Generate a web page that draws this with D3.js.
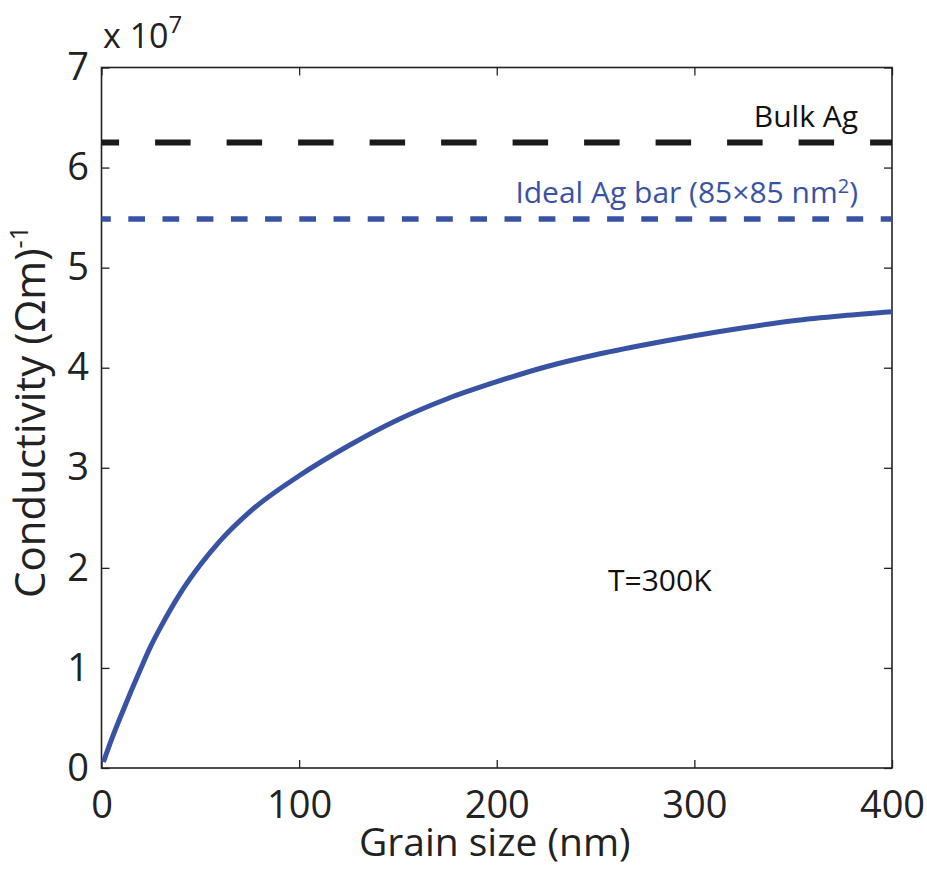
<!DOCTYPE html>
<html>
<head>
<meta charset="utf-8">
<script src="https://cdn.jsdelivr.net/npm/d3@7"></script>
<style>
  body { margin: 0; background: #fff; }
  text { font-family: "Open Sans", "Noto Sans", sans-serif; }
</style>
</head>
<body>
<div id="plothere"></div>
<script>
// conductivity in units of 1e7 (Ohm m)^-1
var grainSize = [1, 5, 10, 15, 20, 25, 30, 40, 50, 60, 75, 100, 125, 150, 175, 200, 225, 250, 275, 300, 325, 350, 375, 400];
var conductivity = [0.06, 0.28, 0.53, 0.77, 1.00, 1.22, 1.41, 1.75, 2.03, 2.27, 2.56, 2.92, 3.22, 3.48, 3.69, 3.86, 4.01, 4.13, 4.23, 4.32, 4.40, 4.47, 4.52, 4.56];
var bulkAg = 6.25;
var idealBar = 5.485;
var xTicks = [0, 100, 200, 300, 400];
var yTicks = [0, 1, 2, 3, 4, 5, 6, 7];

var blue = "#3953a4";
var margin = {top: 67.5, right: 35, bottom: 102, left: 101.5},
    width = 927 - margin.left - margin.right,
    height = 870 - margin.top - margin.bottom;

var svg = d3.select("#plothere")
  .append("svg")
    .attr("width", 927)
    .attr("height", 870)
  .append("g")
    .attr("transform", "translate(" + margin.left + "," + margin.top + ")");

var x = d3.scaleLinear().domain([0, 400]).range([0, width]);
var y = d3.scaleLinear().domain([0, 7]).range([height, 0]);

// axes, ticks pointing inward
svg.append("g")
  .attr("transform", "translate(0," + height + ")")
  .call(d3.axisBottom(x).tickValues(xTicks).tickFormat(d3.format("d"))
    .tickSizeInner(-8).tickSizeOuter(0).tickPadding(23));
svg.append("g")
  .call(d3.axisLeft(y).tickValues(yTicks).tickFormat(d3.format("d"))
    .tickSizeInner(-8).tickSizeOuter(0).tickPadding(12.5));
svg.append("g")
  .call(d3.axisTop(x).tickValues(xTicks).tickSizeInner(-8).tickSizeOuter(0).tickFormat(""));
svg.append("g")
  .attr("transform", "translate(" + width + ",0)")
  .call(d3.axisRight(y).tickValues(yTicks).tickSizeInner(-8).tickSizeOuter(0).tickFormat(""));

svg.selectAll(".domain").remove();
svg.selectAll(".tick line").attr("stroke", "#222").attr("stroke-width", 1.3);
svg.selectAll(".tick text")
  .attr("fill", "#222")
  .style("font-size", "38px")
  .style("font-family", "'Open Sans', sans-serif");

svg.append("rect")
  .attr("width", width)
  .attr("height", height)
  .attr("fill", "none")
  .attr("stroke", "#222")
  .attr("stroke-width", 1.6);

// reference lines
svg.append("line")
  .attr("x1", x(0)).attr("x2", x(400))
  .attr("y1", y(bulkAg)).attr("y2", y(bulkAg))
  .attr("stroke", "#1a1a1a")
  .attr("stroke-width", 6)
  .attr("stroke-dasharray", "35.5,36")
  .attr("stroke-dashoffset", 17.9);

svg.append("line")
  .attr("x1", x(0)).attr("x2", x(400))
  .attr("y1", y(idealBar)).attr("y2", y(idealBar))
  .attr("stroke", blue)
  .attr("stroke-width", 5.5)
  .attr("stroke-dasharray", "16.7,17.5")
  .attr("stroke-dashoffset", 7.4);

// curve
var pts = grainSize.map(function(d, i) { return {x: d, y: conductivity[i]}; });
svg.append("path")
  .datum(pts)
  .attr("fill", "none")
  .attr("stroke", blue)
  .attr("stroke-width", 5)
  .attr("d", d3.line()
    .x(function(d) { return x(d.x); })
    .y(function(d) { return y(d.y); })
    .curve(d3.curveMonotoneX));

// annotations
svg.append("text")
  .attr("x", 858 - margin.left).attr("y", 127 - margin.top)
  .attr("text-anchor", "end")
  .attr("fill", "#111")
  .style("font-size", "30px")
  .text("Bulk Ag");

var ideal = svg.append("text")
  .attr("x", 858 - margin.left).attr("y", 203 - margin.top)
  .attr("text-anchor", "end")
  .attr("fill", blue)
  .style("font-size", "30px");
ideal.append("tspan").text("Ideal Ag bar (85×85 nm");
ideal.append("tspan").attr("dy", -10).style("font-size", "20px").text("2");
ideal.append("tspan").attr("dy", 10).text(")");

svg.append("text")
  .attr("x", 608 - margin.left).attr("y", 591 - margin.top)
  .attr("fill", "#111")
  .style("font-size", "30px")
  .text("T=300K");

// exponent label
var expo = svg.append("text")
  .attr("x", 103 - margin.left).attr("y", 48 - margin.top)
  .attr("fill", "#222")
  .style("font-size", "34px");
expo.append("tspan").text("x 10");
expo.append("tspan").attr("dy", -15).style("font-size", "24px").text("7");

// axis titles
svg.append("text")
  .attr("x", width / 2 - 2).attr("y", 856 - margin.top)
  .attr("text-anchor", "middle")
  .attr("fill", "#222")
  .style("font-size", "39px")
  .text("Grain size (nm)");

var ylab = svg.append("text")
  .attr("transform", "translate(" + (45 - margin.left) + "," + (412 - margin.top) + ") rotate(-90)")
  .attr("text-anchor", "middle")
  .attr("fill", "#222")
  .style("font-size", "42px");
ylab.append("tspan").text("Conductivity (Ωm)");
ylab.append("tspan").attr("dy", -17).style("font-size", "25px").text("-1");
</script>
</body>
</html>
